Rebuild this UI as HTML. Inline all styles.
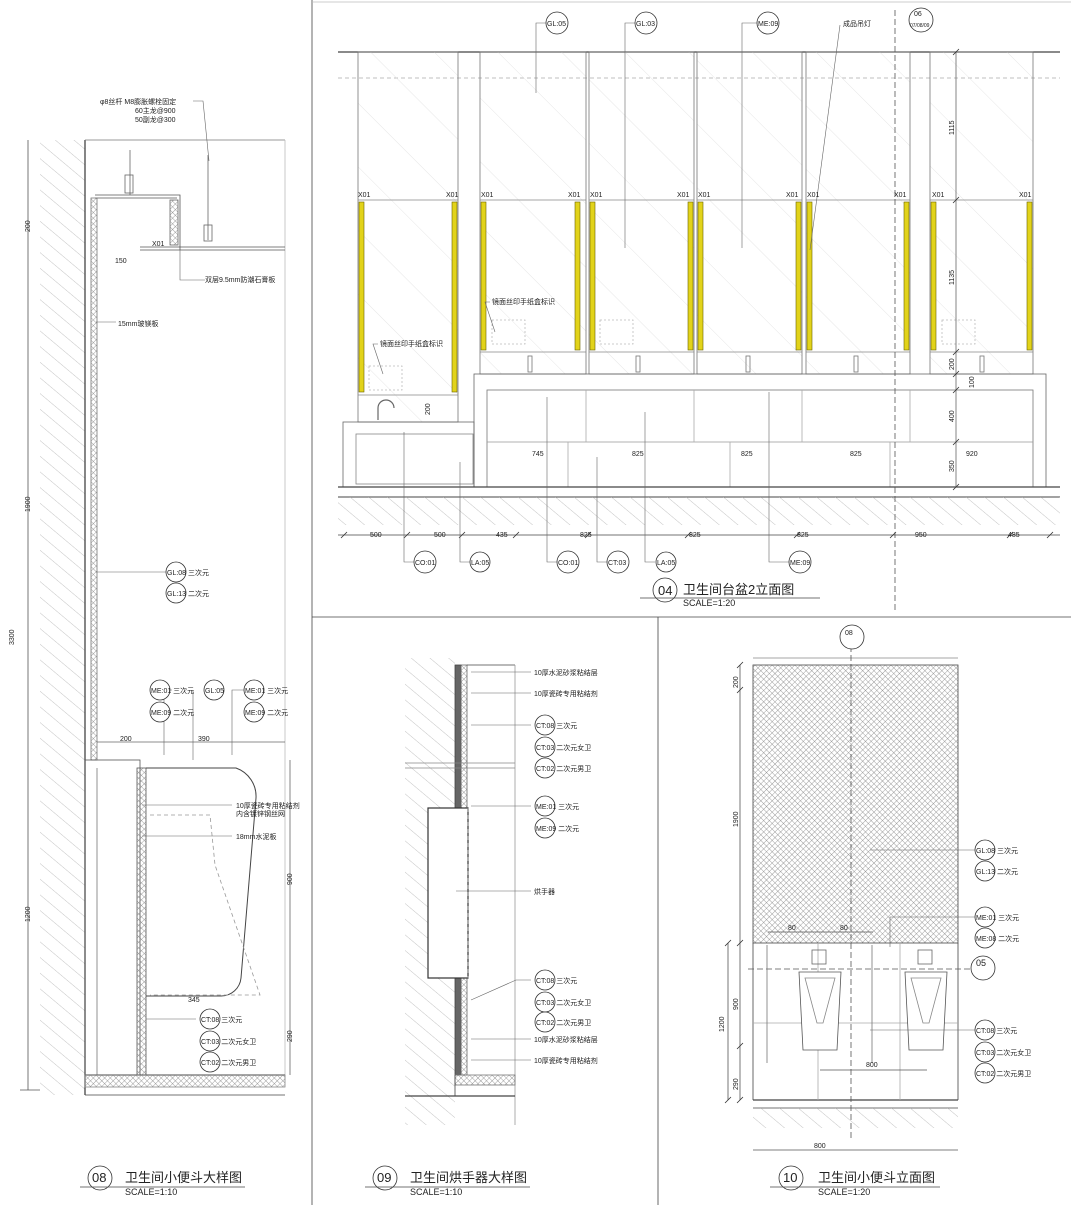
<!DOCTYPE html>
<html><head><meta charset="utf-8"><style>
html,body{margin:0;padding:0;background:#fff}
svg{display:block}
text{font-family:"Liberation Sans","Noto Sans CJK SC",sans-serif;font-size:7px;fill:#222}
.t{font-size:13px}
.s{font-size:9px}
</style></head><body>
<svg width="1071" height="1205" viewBox="0 0 1071 1205" xmlns="http://www.w3.org/2000/svg">
<defs>
<pattern id="h" width="12" height="12" patternUnits="userSpaceOnUse" patternTransform="rotate(-50)"><line x1="0" y1="0" x2="0" y2="12" stroke="#aaa" stroke-width="0.7"/></pattern>
<pattern id="x" width="4" height="4" patternUnits="userSpaceOnUse" patternTransform="rotate(45)"><line x1="0" y1="0" x2="0" y2="4" stroke="#777" stroke-width="0.7"/><line x1="0" y1="0" x2="4" y2="0" stroke="#777" stroke-width="0.7"/></pattern>
<pattern id="g" width="45" height="45" patternUnits="userSpaceOnUse" patternTransform="rotate(-45)"><line x1="0" y1="0" x2="0" y2="45" stroke="#e0e0e0" stroke-width="0.8"/></pattern>
</defs>
<g fill="none" stroke="#444" stroke-width="0.8">
<line x1="312" y1="0" x2="312" y2="1205"/>
<line x1="312" y1="617" x2="1071" y2="617"/>
<line x1="658" y1="617" x2="658" y2="1205"/>
<line x1="312" y1="2" x2="1071" y2="2" stroke="#bbb"/>

<!-- ===== PANEL 04 ===== -->
<line x1="338" y1="52" x2="1060" y2="52" stroke-width="1.2"/>
<line x1="338" y1="78" x2="1060" y2="78" stroke="#aaa" stroke-dasharray="4 3"/>
<rect x="358" y="52" width="100" height="370" fill="url(#g)" stroke="#777"/>
<rect x="480" y="52" width="106" height="322" fill="url(#g)" stroke="#777"/>
<rect x="589" y="52" width="105" height="322" fill="url(#g)" stroke="#777"/>
<rect x="697" y="52" width="105" height="322" fill="url(#g)" stroke="#777"/>
<rect x="806" y="52" width="104" height="322" fill="url(#g)" stroke="#777"/>
<rect x="930" y="52" width="103" height="322" fill="url(#g)" stroke="#777"/>
<g stroke="#888">
<line x1="358" y1="200" x2="458" y2="200"/><line x1="358" y1="395" x2="458" y2="395"/>
<line x1="480" y1="200" x2="586" y2="200"/><line x1="480" y1="352" x2="586" y2="352"/>
<line x1="589" y1="200" x2="694" y2="200"/><line x1="589" y1="352" x2="694" y2="352"/>
<line x1="697" y1="200" x2="802" y2="200"/><line x1="697" y1="352" x2="802" y2="352"/>
<line x1="806" y1="200" x2="910" y2="200"/><line x1="806" y1="352" x2="910" y2="352"/>
<line x1="930" y1="200" x2="1033" y2="200"/><line x1="930" y1="352" x2="1033" y2="352"/>
</g>
<g fill="#e2d31a" stroke="#6b6300" stroke-width="0.6">
<rect x="359" y="202" width="5" height="190"/><rect x="452" y="202" width="5" height="190"/>
<rect x="481" y="202" width="5" height="148"/><rect x="575" y="202" width="5" height="148"/>
<rect x="590" y="202" width="5" height="148"/><rect x="688" y="202" width="5" height="148"/>
<rect x="698" y="202" width="5" height="148"/><rect x="796" y="202" width="5" height="148"/>
<rect x="807" y="202" width="5" height="148"/><rect x="904" y="202" width="5" height="148"/>
<rect x="931" y="202" width="5" height="148"/><rect x="1027" y="202" width="5" height="148"/>
</g>
<g stroke="#bbb" stroke-dasharray="2 2">
<rect x="369" y="366" width="33" height="24"/><rect x="492" y="320" width="33" height="24"/>
<rect x="600" y="320" width="33" height="24"/><rect x="942" y="320" width="33" height="24"/>
</g>
<rect x="474" y="374" width="572" height="113" stroke="#666"/>
<rect x="487" y="390" width="546" height="97" stroke="#777"/>
<line x1="487" y1="442" x2="1033" y2="442" stroke="#999"/>
<g stroke="#aaa"><line x1="586" y1="390" x2="586" y2="442"/><line x1="694" y1="390" x2="694" y2="442"/><line x1="802" y1="390" x2="802" y2="442"/><line x1="910" y1="390" x2="910" y2="442"/>
<line x1="568" y1="442" x2="568" y2="487"/><line x1="730" y1="442" x2="730" y2="487"/><line x1="890" y1="442" x2="890" y2="487"/></g>
<rect x="343" y="422" width="131" height="65" stroke="#666"/>
<rect x="356" y="434" width="117" height="50" stroke="#888"/>
<path d="M378 420 v-12 a8 8 0 0 1 16 0" stroke="#666" stroke-width="1.2"/>
<g stroke="#777"><rect x="528" y="356" width="4" height="16"/><rect x="636" y="356" width="4" height="16"/><rect x="746" y="356" width="4" height="16"/><rect x="854" y="356" width="4" height="16"/><rect x="980" y="356" width="4" height="16"/></g>
<!-- vertical dims right -->
<line x1="956" y1="52" x2="956" y2="487" stroke="#666"/>
<g stroke="#333"><path d="M953 55 l6 -6 M953 203 l6 -6 M953 355 l6 -6 M953 377 l6 -6 M953 393 l6 -6 M953 445 l6 -6 M953 490 l6 -6"/></g>
<line x1="338" y1="487" x2="1060" y2="487" stroke-width="1.3"/>
<line x1="338" y1="497" x2="1060" y2="497" stroke-width="1"/>
<rect x="338" y="497" width="722" height="28" fill="url(#h)" stroke="none"/>
<line x1="338" y1="535" x2="1060" y2="535"/>
<g stroke="#333"><path d="M341 538 l6 -6 M404 538 l6 -6 M459 538 l6 -6 M513 538 l6 -6 M585 538 l6 -6 M685 538 l6 -6 M794 538 l6 -6 M890 538 l6 -6 M1007 538 l6 -6 M1047 538 l6 -6"/></g>
<line x1="895" y1="10" x2="895" y2="610" stroke="#555" stroke-dasharray="6 3"/>
<g stroke="#666" stroke-width="0.6">
<path d="M546 23 h-10 v70"/><path d="M635 23 h-10 v225"/><path d="M757 23 h-15 v225"/><path d="M840 25 l-30 225"/>
<path d="M414 562 h-10 v-130"/><path d="M470 562 h-10 v-100"/><path d="M557 562 h-10 v-165"/><path d="M607 562 h-10 v-105"/><path d="M655 562 h-10 v-150"/><path d="M789 562 h-20 v-170"/>
<path d="M490 302 h-5 l10 30"/><path d="M378 344 h-5 l10 30"/>
</g>
<g fill="#fff" stroke="#333"><circle cx="557" cy="23" r="11"/><circle cx="646" cy="23" r="11"/><circle cx="768" cy="23" r="11"/><circle cx="921" cy="20" r="12"/>
<circle cx="425" cy="562" r="11"/><circle cx="480" cy="562" r="10"/><circle cx="568" cy="562" r="11"/><circle cx="618" cy="562" r="11"/><circle cx="666" cy="562" r="10"/><circle cx="800" cy="562" r="11"/>
<circle cx="665" cy="590" r="12"/></g>
<line x1="640" y1="598" x2="820" y2="598"/>

<!-- ===== PANEL 08 ===== -->
<rect x="40" y="140" width="45" height="955" fill="url(#h)" stroke="none"/>
<line x1="85" y1="140" x2="85" y2="1095" stroke-width="1.3"/>
<line x1="85" y1="140" x2="285" y2="140" stroke="#777"/>
<line x1="285" y1="140" x2="285" y2="1080" stroke="#bbb"/>
<path d="M95 195 h85 v55 h-40 M140 250 h145 M95 198 h82 M140 247 h145" stroke="#555"/>
<rect x="170" y="200" width="8" height="45" fill="url(#x)" stroke="#666"/>
<path d="M130 150 v45 M208 155 v85" stroke="#666"/>
<rect x="125" y="175" width="8" height="18" stroke="#666"/><rect x="204" y="225" width="8" height="16" stroke="#666"/>
<rect x="91" y="198" width="6" height="562" fill="url(#x)" stroke="#777"/>
<line x1="28" y1="140" x2="28" y2="1090" stroke="#555"/>
<line x1="20" y1="1090" x2="40" y2="1090" stroke="#555"/>
<rect x="85" y="760" width="55" height="315" stroke="#555"/>
<line x1="97" y1="768" x2="97" y2="1075" stroke="#777"/>
<rect x="137" y="768" width="9" height="307" fill="url(#x)" stroke="#555"/>
<path d="M146 768 h90 a30 30 0 0 1 20 30 l-15 180 a20 20 0 0 1 -20 18 h-75" stroke="#444" stroke-width="1"/>
<path d="M150 815 h60 l5 50 l45 130 l-110 0" stroke="#999" stroke-dasharray="4 3"/>
<line x1="85" y1="1075" x2="285" y2="1075" stroke-width="1.2"/>
<rect x="85" y="1075" width="200" height="12" fill="url(#x)" stroke="#888"/>
<line x1="85" y1="1095" x2="285" y2="1095"/>
<line x1="290" y1="760" x2="290" y2="1075" stroke="#666"/>
<line x1="97" y1="742" x2="285" y2="742" stroke="#666"/>
<g stroke="#666" stroke-width="0.6"><path d="M172 690 h-8 v65"/><path d="M244 690 h-12 v65"/><path d="M193 690 v70"/>
<path d="M96 572 h70"/><path d="M96 322 h20"/><path d="M232 805 h-90"/><path d="M232 836 h-90"/><path d="M193 101 h10 l6 60"/><path d="M205 280 h-25 v-30"/><path d="M146 1019 h50"/></g>
<g fill="#fff" stroke="#333"><circle cx="176" cy="572" r="10"/><circle cx="176" cy="593" r="10"/>
<circle cx="160" cy="690" r="10"/><circle cx="160" cy="712" r="10"/><circle cx="214" cy="690" r="10"/><circle cx="254" cy="690" r="10"/><circle cx="254" cy="712" r="10"/>
<circle cx="210" cy="1019" r="10"/><circle cx="210" cy="1041" r="10"/><circle cx="210" cy="1062" r="10"/>
<circle cx="100" cy="1178" r="12"/></g>
<line x1="80" y1="1187" x2="245" y2="1187"/>

<!-- ===== PANEL 09 ===== -->
<rect x="405" y="658" width="50" height="467" fill="url(#h)" stroke="none"/>
<rect x="455" y="665" width="6" height="410" fill="#666" stroke="#444"/>
<rect x="461" y="665" width="6" height="410" fill="url(#x)" stroke="#666"/>
<line x1="467" y1="665" x2="515" y2="665"/>
<line x1="515" y1="665" x2="515" y2="1125" stroke="#999"/>
<line x1="405" y1="763" x2="515" y2="763" stroke="#888"/><line x1="405" y1="768" x2="515" y2="768" stroke="#888"/>
<rect x="428" y="808" width="40" height="170" stroke="#333" stroke-width="1.2" fill="#fff"/>
<line x1="468" y1="808" x2="468" y2="978" stroke="#999" stroke-dasharray="4 3"/>
<rect x="455" y="1075" width="60" height="10" fill="url(#x)" stroke="#777"/>
<line x1="405" y1="1096" x2="515" y2="1096" stroke-width="1.2"/><line x1="455" y1="1075" x2="455" y2="1096"/>
<g stroke="#666" stroke-width="0.6"><path d="M531 672 h-60"/><path d="M531 693 h-60"/><path d="M531 725 h-60"/><path d="M531 806 h-60"/><path d="M531 891 h-75"/><path d="M531 980 h-15 l-45 20"/><path d="M531 1039 h-60"/><path d="M531 1060 h-60"/></g>
<g fill="#fff" stroke="#333"><circle cx="545" cy="725" r="10"/><circle cx="545" cy="747" r="10"/><circle cx="545" cy="768" r="10"/><circle cx="545" cy="806" r="10"/><circle cx="545" cy="828" r="10"/>
<circle cx="545" cy="980" r="10"/><circle cx="545" cy="1002" r="10"/><circle cx="545" cy="1022" r="10"/>
<circle cx="385" cy="1178" r="12"/></g>
<line x1="365" y1="1187" x2="530" y2="1187"/>

<!-- ===== PANEL 10 ===== -->
<line x1="753" y1="658" x2="958" y2="658" stroke="#888"/>
<rect x="753" y="665" width="205" height="278" fill="url(#x)" stroke="#444"/>
<line x1="753" y1="943" x2="753" y2="1100"/><line x1="958" y1="943" x2="958" y2="1100"/>
<line x1="753" y1="1100" x2="958" y2="1100" stroke-width="1.3"/>
<line x1="753" y1="1108" x2="958" y2="1108"/>
<rect x="753" y="1108" width="205" height="20" fill="url(#h)" stroke="none"/>
<g stroke="#aaa"><line x1="753" y1="1023" x2="958" y2="1023"/><line x1="818" y1="943" x2="818" y2="1100"/><line x1="900" y1="943" x2="900" y2="1100"/></g>
<line x1="851" y1="637" x2="851" y2="1140" stroke="#555" stroke-dasharray="6 3"/>
<line x1="748" y1="969" x2="970" y2="969" stroke="#555" stroke-dasharray="6 3"/>
<path d="M799 972 h42 l-4 78 h-34 z" stroke="#555" fill="#fff"/>
<path d="M805 978 h30 l-12 45 h-6 z" stroke="#888"/>
<path d="M905 972 h42 l-4 78 h-34 z" stroke="#555" fill="#fff"/>
<path d="M911 978 h30 l-12 45 h-6 z" stroke="#888"/>
<rect x="812" y="950" width="14" height="14" stroke="#666"/><rect x="918" y="950" width="14" height="14" stroke="#666"/>
<line x1="767" y1="945" x2="767" y2="1063" stroke="#777"/><line x1="872" y1="945" x2="872" y2="1063" stroke="#777"/>
<line x1="740" y1="665" x2="740" y2="1100" stroke="#555"/><line x1="728" y1="943" x2="728" y2="1100" stroke="#555"/>
<g stroke="#333"><path d="M737 668 l6 -6 M737 693 l6 -6 M737 946 l6 -6 M737 1049 l6 -6 M737 1103 l6 -6 M725 946 l6 -6 M725 1103 l6 -6"/></g>
<line x1="768" y1="932" x2="873" y2="932" stroke="#555"/>
<line x1="820" y1="1070" x2="927" y2="1070" stroke="#555"/>
<line x1="753" y1="1150" x2="958" y2="1150" stroke="#555"/>
<g stroke="#666" stroke-width="0.6"><path d="M975 850 h-105"/><path d="M975 917 h-85 v30"/><path d="M975 1030 h-105"/></g>
<g fill="#fff" stroke="#333"><circle cx="852" cy="637" r="12"/><circle cx="985" cy="850" r="10"/><circle cx="985" cy="871" r="10"/><circle cx="985" cy="917" r="10"/><circle cx="985" cy="938" r="10"/>
<circle cx="983" cy="968" r="12"/><circle cx="985" cy="1030" r="10"/><circle cx="985" cy="1052" r="10"/><circle cx="985" cy="1073" r="10"/>
<circle cx="791" cy="1178" r="12"/></g>
<line x1="770" y1="1187" x2="940" y2="1187"/>
</g>

<!-- ===== TEXT ===== -->
<text x="547" y="26">GL:05</text><text x="636" y="26">GL:03</text><text x="758" y="26">ME:09</text><text x="843" y="26">成品吊灯</text>
<text x="914" y="16">06</text><text x="910" y="27" style="font-size:5px">07/08/09</text>
<g><text x="358" y="197">X01</text><text x="446" y="197">X01</text><text x="481" y="197">X01</text><text x="568" y="197">X01</text><text x="590" y="197">X01</text><text x="677" y="197">X01</text><text x="698" y="197">X01</text><text x="786" y="197">X01</text><text x="807" y="197">X01</text><text x="894" y="197">X01</text><text x="932" y="197">X01</text><text x="1019" y="197">X01</text></g>
<text x="492" y="304">镜面丝印手纸盒标识</text><text x="380" y="346">镜面丝印手纸盒标识</text>
<text x="532" y="456">745</text><text x="632" y="456">825</text><text x="741" y="456">825</text><text x="850" y="456">825</text><text x="966" y="456">920</text>
<text x="370" y="537">500</text><text x="434" y="537">500</text><text x="496" y="537">435</text><text x="580" y="537">825</text><text x="689" y="537">825</text><text x="797" y="537">825</text><text x="915" y="537">950</text><text x="1008" y="537">485</text>
<text transform="translate(954,135) rotate(-90)">1115</text><text transform="translate(954,285) rotate(-90)">1135</text><text transform="translate(954,370) rotate(-90)">200</text><text transform="translate(974,388) rotate(-90)">100</text><text transform="translate(954,422) rotate(-90)">400</text><text transform="translate(954,472) rotate(-90)">350</text>
<text transform="translate(430,415) rotate(-90)">200</text>
<text x="415" y="565">CO:01</text><text x="471" y="565">LA:05</text><text x="558" y="565">CO:01</text><text x="608" y="565">CT:03</text><text x="657" y="565">LA:05</text><text x="790" y="565">ME:09</text>
<text x="658" y="595" class="t">04</text><text x="683" y="594" class="t">卫生间台盆2立面图</text><text x="683" y="606" class="s">SCALE=1:20</text>
<text x="100" y="104">φ8丝杆  M8膨胀螺栓固定</text><text x="135" y="113">60主龙@900</text><text x="135" y="122">50副龙@300</text>
<text x="152" y="246">X01</text><text x="205" y="282">双层9.5mm防潮石膏板</text><text x="118" y="326">15mm玻镁板</text>
<text x="115" y="263">150</text>
<text x="167" y="575">GL:08 三次元</text><text x="167" y="596">GL:13 二次元</text>
<text x="151" y="693">ME:01 三次元</text><text x="151" y="715">ME:09 二次元</text><text x="205" y="693">GL:05</text><text x="245" y="693">ME:01 三次元</text><text x="245" y="715">ME:09 二次元</text>
<text x="120" y="741">200</text><text x="198" y="741">390</text>
<text x="236" y="808">10厚瓷砖专用粘结剂</text><text x="236" y="816">内含镀锌钢丝网</text><text x="236" y="839">18mm水泥板</text>
<text x="188" y="1002">345</text>
<text x="201" y="1022">CT:08 三次元</text><text x="201" y="1044">CT:03 二次元女卫</text><text x="201" y="1065">CT:02 二次元男卫</text>
<text x="92" y="1182" class="t">08</text><text x="125" y="1182" class="t">卫生间小便斗大样图</text><text x="125" y="1195" class="s">SCALE=1:10</text>
<text transform="translate(30,232) rotate(-90)">200</text><text transform="translate(30,512) rotate(-90)">1900</text><text transform="translate(14,645) rotate(-90)">3300</text><text transform="translate(30,922) rotate(-90)">1200</text>
<text transform="translate(292,885) rotate(-90)">900</text><text transform="translate(292,1042) rotate(-90)">290</text>
<text x="534" y="675">10厚水泥砂浆粘结层</text><text x="534" y="696">10厚瓷砖专用粘结剂</text>
<text x="536" y="728">CT:08 三次元</text><text x="536" y="750">CT:03 二次元女卫</text><text x="536" y="771">CT:02 二次元男卫</text>
<text x="536" y="809">ME:01 三次元</text><text x="536" y="831">ME:09 二次元</text><text x="534" y="894">烘手器</text>
<text x="536" y="983">CT:08 三次元</text><text x="536" y="1005">CT:03 二次元女卫</text><text x="536" y="1025">CT:02 二次元男卫</text>
<text x="534" y="1042">10厚水泥砂浆粘结层</text><text x="534" y="1063">10厚瓷砖专用粘结剂</text>
<text x="377" y="1182" class="t">09</text><text x="410" y="1182" class="t">卫生间烘手器大样图</text><text x="410" y="1195" class="s">SCALE=1:10</text>
<text x="845" y="635">08</text>
<text x="976" y="853">GL:08 三次元</text><text x="976" y="874">GL:13 二次元</text><text x="976" y="920">ME:01 三次元</text><text x="976" y="941">ME:08 二次元</text>
<text x="976" y="966" class="s">05</text>
<text x="976" y="1033">CT:08 三次元</text><text x="976" y="1055">CT:03 二次元女卫</text><text x="976" y="1076">CT:02 二次元男卫</text>
<text x="788" y="930">80</text><text x="840" y="930">80</text><text x="866" y="1067">800</text><text x="814" y="1148">800</text>
<text transform="translate(738,688) rotate(-90)">200</text><text transform="translate(738,827) rotate(-90)">1900</text><text transform="translate(738,1010) rotate(-90)">900</text><text transform="translate(724,1032) rotate(-90)">1200</text><text transform="translate(738,1090) rotate(-90)">290</text>
<text x="783" y="1182" class="t">10</text><text x="818" y="1182" class="t">卫生间小便斗立面图</text><text x="818" y="1195" class="s">SCALE=1:20</text>
</svg>
</body></html>
